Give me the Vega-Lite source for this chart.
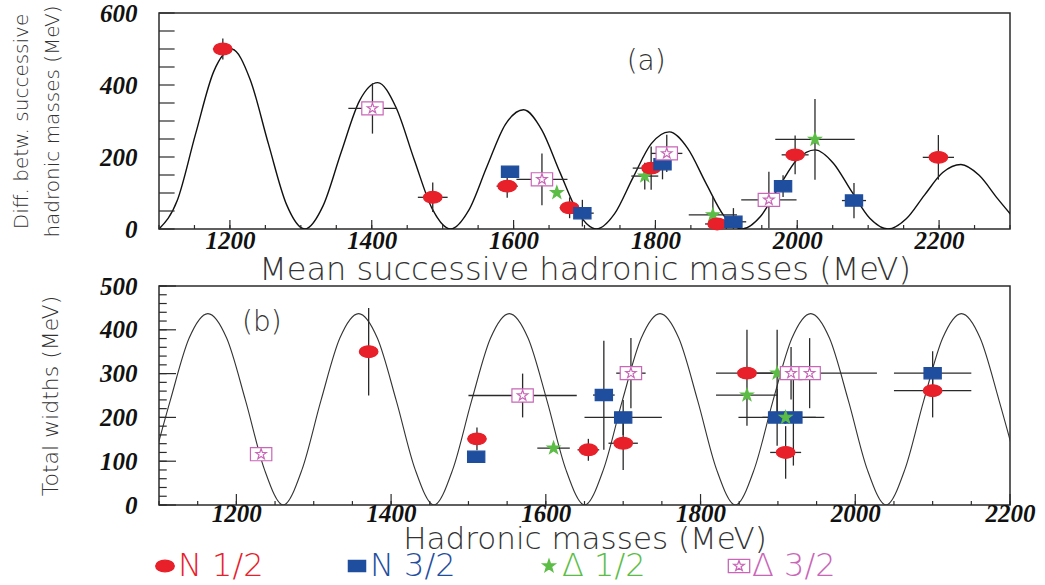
{
  "$schema": "https://vega.github.io/schema/vega-lite/v6.json",
  "background": "white",
  "padding": {"left": 10, "top": 0, "right": 5, "bottom": 5},
  "spacing": -16,
  "config": {
    "view": {"stroke": "#2b2b2b", "strokeWidth": 1.5},
    "axis": {"domain": false, "ticks": false, "grid": false,
      "labelFont": "Liberation Serif", "labelFontStyle": "italic", "labelFontWeight": "bold", "labelFontSize": 25, "labelColor": "#111",
      "labelFlush": false, "labelOverlap": false, "labelBound": false,
      "titleFont": "DejaVu Sans", "titleFontWeight": 200, "titleColor": "#333"}
  },
  "datasets": {
    "tkAx": [{"v":1100},{"v":1150},{"v":1200},{"v":1250},{"v":1300},{"v":1350},{"v":1400},{"v":1450},{"v":1500},{"v":1550},{"v":1600},{"v":1650},{"v":1700},{"v":1750},{"v":1800},{"v":1850},{"v":1900},{"v":1950},{"v":2000},{"v":2050},{"v":2100},{"v":2150},{"v":2200},{"v":2250},{"v":2300}],
    "tkAy": [{"v":0},{"v":50},{"v":100},{"v":150},{"v":200},{"v":250},{"v":300},{"v":350},{"v":400},{"v":450},{"v":500},{"v":550},{"v":600}],
    "tkBx": [{"v":1100},{"v":1150},{"v":1200},{"v":1250},{"v":1300},{"v":1350},{"v":1400},{"v":1450},{"v":1500},{"v":1550},{"v":1600},{"v":1650},{"v":1700},{"v":1750},{"v":1800},{"v":1850},{"v":1900},{"v":1950},{"v":2000},{"v":2050},{"v":2100},{"v":2150},{"v":2200}],
    "tkBy": [{"v":0},{"v":20},{"v":40},{"v":60},{"v":80},{"v":100},{"v":120},{"v":140},{"v":160},{"v":180},{"v":200},{"v":220},{"v":240},{"v":260},{"v":280},{"v":300},{"v":320},{"v":340},{"v":360},{"v":380},{"v":400},{"v":420},{"v":440},{"v":460},{"v":480},{"v":500}],
    "pts": [
      {"panel":"a","s":"N 1/2","x":1190,"y":500,"xlo":1176,"xhi":1204,"ylo":471,"yhi":529},
      {"panel":"a","s":"Δ 3/2","x":1401,"y":335,"xlo":1367,"xhi":1435,"ylo":265,"yhi":405},
      {"panel":"a","s":"N 1/2","x":1486,"y":88,"xlo":1465,"xhi":1507,"ylo":47,"yhi":129},
      {"panel":"a","s":"N 3/2","x":1595,"y":159},
      {"panel":"a","s":"N 1/2","x":1591,"y":119,"xlo":1576,"xhi":1606,"ylo":87,"yhi":151},
      {"panel":"a","s":"Δ 3/2","x":1640,"y":138,"xlo":1604,"xhi":1676,"ylo":66,"yhi":210},
      {"panel":"a","s":"Δ 1/2","x":1661,"y":101},
      {"panel":"a","s":"N 1/2","x":1679,"y":59,"xlo":1665,"xhi":1693,"ylo":30,"yhi":88},
      {"panel":"a","s":"N 3/2","x":1697,"y":44,"xlo":1681,"xhi":1713,"ylo":7,"yhi":81},
      {"panel":"a","s":"Δ 1/2","x":1785,"y":147,"xlo":1766,"xhi":1804,"ylo":110,"yhi":184},
      {"panel":"a","s":"N 1/2","x":1794,"y":169,"xlo":1768,"xhi":1820,"ylo":109,"yhi":229},
      {"panel":"a","s":"N 3/2","x":1810,"y":180,"ylo":138,"yhi":222},
      {"panel":"a","s":"Δ 3/2","x":1816,"y":210,"xlo":1794,"xhi":1838,"ylo":158,"yhi":262},
      {"panel":"a","s":"Δ 1/2","x":1881,"y":39,"xlo":1847,"xhi":1915,"ylo":0,"yhi":90},
      {"panel":"a","s":"N 1/2","x":1887,"y":14,"xlo":1870,"xhi":1904},
      {"panel":"a","s":"N 3/2","x":1910,"y":20,"xlo":1892,"xhi":1928,"ylo":0,"yhi":58},
      {"panel":"a","s":"Δ 3/2","x":1960,"y":81,"xlo":1921,"xhi":1999,"ylo":3,"yhi":159},
      {"panel":"a","s":"N 3/2","x":1980,"y":119,"xlo":1970,"xhi":1990,"ylo":89,"yhi":149},
      {"panel":"a","s":"N 1/2","x":1997,"y":206,"xlo":1978,"xhi":2016,"ylo":152,"yhi":260},
      {"panel":"a","s":"Δ 1/2","x":2025,"y":249,"xlo":1969,"xhi":2081,"ylo":137,"yhi":361},
      {"panel":"a","s":"N 3/2","x":2080,"y":79,"xlo":2063,"xhi":2097,"ylo":30,"yhi":128},
      {"panel":"a","s":"N 1/2","x":2199,"y":199,"xlo":2177,"xhi":2221,"ylo":137,"yhi":261},
      {"panel":"b","s":"Δ 3/2","x":1232,"y":116},
      {"panel":"b","s":"N 1/2","x":1371,"y":350,"ylo":250,"yhi":450},
      {"panel":"b","s":"N 1/2","x":1511,"y":151,"ylo":125,"yhi":177},
      {"panel":"b","s":"N 3/2","x":1510,"y":110},
      {"panel":"b","s":"Δ 3/2","x":1570,"y":250,"xlo":1500,"xhi":1640,"ylo":200,"yhi":300},
      {"panel":"b","s":"Δ 1/2","x":1610,"y":130,"xlo":1589,"xhi":1631},
      {"panel":"b","s":"N 1/2","x":1655,"y":126,"xlo":1641,"xhi":1669,"ylo":101,"yhi":151},
      {"panel":"b","s":"N 3/2","x":1675,"y":251,"xlo":1661,"xhi":1689,"ylo":126,"yhi":375},
      {"panel":"b","s":"N 3/2","x":1700,"y":200,"xlo":1650,"xhi":1750,"ylo":160,"yhi":240},
      {"panel":"b","s":"N 1/2","x":1700,"y":141,"xlo":1681,"xhi":1719,"ylo":80,"yhi":200},
      {"panel":"b","s":"Δ 3/2","x":1710,"y":301,"xlo":1691,"xhi":1729,"ylo":221,"yhi":381},
      {"panel":"b","s":"N 1/2","x":1860,"y":301,"xlo":1820,"xhi":1900,"ylo":181,"yhi":400},
      {"panel":"b","s":"Δ 1/2","x":1860,"y":251,"xlo":1820,"xhi":1900},
      {"panel":"b","s":"Δ 1/2","x":1899,"y":301,"ylo":202,"yhi":400},
      {"panel":"b","s":"N 3/2","x":1899,"y":200,"xlo":1849,"xhi":1949,"ylo":135,"yhi":265},
      {"panel":"b","s":"N 3/2","x":1920,"y":200,"xlo":1880,"xhi":1960,"ylo":90,"yhi":310},
      {"panel":"b","s":"Δ 3/2","x":1917,"y":301,"ylo":241,"yhi":361},
      {"panel":"b","s":"Δ 3/2","x":1941,"y":301,"xlo":1855,"xhi":2028,"ylo":221,"yhi":381},
      {"panel":"b","s":"Δ 1/2","x":1910,"y":200},
      {"panel":"b","s":"N 1/2","x":1910,"y":120,"xlo":1890,"xhi":1930,"ylo":60,"yhi":180},
      {"panel":"b","s":"N 3/2","x":2100,"y":301,"xlo":2050,"xhi":2150,"ylo":251,"yhi":351},
      {"panel":"b","s":"N 1/2","x":2100,"y":261,"xlo":2050,"xhi":2150,"ylo":200,"yhi":322}
    ],
    "curveA": [
      {"x":1100,"y":0},{"x":1125.7,"y":78.9},{"x":1151.4,"y":262.7},{"x":1177.1,"y":437.1},{"x":1202.8,"y":499.1},{"x":1228.5,"y":415.3},{"x":1254.2,"y":237.1},{"x":1279.9,"y":67.7},
      {"x":1305.6,"y":0},{"x":1331.3,"y":64.3},{"x":1357,"y":214},{"x":1382.7,"y":356.1},{"x":1408.4,"y":406.6},{"x":1434.1,"y":338.3},{"x":1459.8,"y":193.2},{"x":1485.5,"y":55.1},
      {"x":1511.2,"y":0},{"x":1536.9,"y":52.4},{"x":1562.6,"y":174.3},{"x":1588.3,"y":290},{"x":1614,"y":331.2},{"x":1639.7,"y":275.5},{"x":1665.4,"y":157.3},{"x":1691.1,"y":44.9},
      {"x":1716.8,"y":0},{"x":1742.5,"y":42.6},{"x":1768.2,"y":142},{"x":1793.9,"y":236.3},{"x":1819.6,"y":269.8},{"x":1845.3,"y":224.5},{"x":1871,"y":128.2},{"x":1896.7,"y":36.6},
      {"x":1922.4,"y":0},{"x":1948.1,"y":34.7},{"x":1973.8,"y":115.7},{"x":1999.5,"y":192.5},{"x":2025.2,"y":219.8},{"x":2050.9,"y":182.8},{"x":2076.6,"y":104.4},{"x":2102.3,"y":29.8},
      {"x":2128,"y":0},{"x":2153.7,"y":28.3},{"x":2179.4,"y":94.2},{"x":2205.1,"y":156.7},{"x":2230.8,"y":179},{"x":2256.5,"y":149},{"x":2282.2,"y":85},{"x":2307.9,"y":24.3}
    ],
    "curveB": [
      {"x":1090.15,"y":81.4},{"x":1114.5,"y":238.3},{"x":1138.85,"y":380.5},{"x":1163.2,"y":437},{"x":1187.55,"y":380.5},{"x":1211.9,"y":238.3},{"x":1236.25,"y":81.4},{"x":1260.6,"y":0},
      {"x":1284.95,"y":81.4},{"x":1309.3,"y":238.3},{"x":1333.65,"y":380.5},{"x":1358,"y":437},{"x":1382.35,"y":380.5},{"x":1406.7,"y":238.3},{"x":1431.05,"y":81.4},{"x":1455.4,"y":0},
      {"x":1479.75,"y":81.4},{"x":1504.1,"y":238.3},{"x":1528.45,"y":380.5},{"x":1552.8,"y":437},{"x":1577.15,"y":380.5},{"x":1601.5,"y":238.3},{"x":1625.85,"y":81.4},{"x":1650.2,"y":0},
      {"x":1674.55,"y":81.4},{"x":1698.9,"y":238.3},{"x":1723.25,"y":380.5},{"x":1747.6,"y":437},{"x":1771.95,"y":380.5},{"x":1796.3,"y":238.3},{"x":1820.65,"y":81.4},{"x":1845,"y":0},
      {"x":1869.35,"y":81.4},{"x":1893.7,"y":238.3},{"x":1918.05,"y":380.5},{"x":1942.4,"y":437},{"x":1966.75,"y":380.5},{"x":1991.1,"y":238.3},{"x":2015.45,"y":81.4},{"x":2039.8,"y":0},
      {"x":2064.15,"y":81.4},{"x":2088.5,"y":238.3},{"x":2112.85,"y":380.5},{"x":2137.2,"y":437},{"x":2161.55,"y":380.5},{"x":2185.9,"y":238.3},{"x":2210.25,"y":81.4}
    ]
  },
  "vconcat": [
    {
      "width": 851, "height": 216,
      "layer": [
        {
          "data": {"name": "curveA"},
          "mark": {"type": "line", "interpolate": "monotone", "color": "#111", "strokeWidth": 1.4, "clip": true},
          "encoding": {
            "x": {"field": "x", "type": "quantitative", "scale": {"domain": [1100, 2300], "nice": false, "zero": false},
              "axis": {"orient": "bottom", "ticks": false, "domain": false, "title": "Mean successive hadronic masses (MeV)", "titleFontSize": 32, "titlePadding": 1, "format": "d",
                "values": [1200,1400,1600,1800,2000,2200], "labelPadding": -1, "labelOverlap": false, "labelFlush": false}},
            "y": {"field": "y", "type": "quantitative", "scale": {"domain": [0, 600], "nice": false},
              "axis": {"orient": "left", "ticks": false, "domain": false, "title": ["Diff. betw. successive", "hadronic masses (MeV)"], "titleFontSize": 20, "titleLineHeight": 31, "titlePadding": 37, "format": "d",
                "values": [0,200,400,600], "labelPadding": 22, "labelOverlap": false}}
          }
        },
        {
          "data": {"name": "tkAx"},
          "mark": {"type": "rule", "color": "#2b2b2b", "strokeWidth": 1.2},
          "encoding": {"x": {"field": "v", "type": "quantitative"}, "y": {"datum": 0}, "y2": {"datum": 11}}
        },
        {
          "data": {"name": "tkAx"},
          "transform": [{"filter": "datum.v % 200 === 0"}],
          "mark": {"type": "rule", "color": "#2b2b2b", "strokeWidth": 1.2},
          "encoding": {"x": {"field": "v", "type": "quantitative"}, "y": {"datum": 0}, "y2": {"datum": 25}}
        },
        {
          "data": {"name": "tkAy"},
          "mark": {"type": "rule", "color": "#2b2b2b", "strokeWidth": 1.2},
          "encoding": {"y": {"field": "v", "type": "quantitative"}, "x": {"datum": 1100}, "x2": {"datum": 1122}}
        },
        {
          "data": {"name": "pts"},
          "transform": [{"filter": "datum.panel === 'a' && datum.xlo != null"}],
          "mark": {"type": "rule", "color": "#2a2a2a", "strokeWidth": 1.3},
          "encoding": {"x": {"field": "xlo", "type": "quantitative"}, "x2": {"field": "xhi"}, "y": {"field": "y", "type": "quantitative"}}
        },
        {
          "data": {"name": "pts"},
          "transform": [{"filter": "datum.panel === 'a' && datum.ylo != null"}],
          "mark": {"type": "rule", "color": "#2a2a2a", "strokeWidth": 1.3},
          "encoding": {"x": {"field": "x", "type": "quantitative"}, "y": {"field": "ylo", "type": "quantitative"}, "y2": {"field": "yhi"}}
        },
        {
          "data": {"name": "pts"},
          "transform": [{"filter": "datum.panel === 'a'"}],
          "mark": {"type": "point", "size": 190, "opacity": 1, "strokeWidth": 1.2},
          "encoding": {
            "x": {"field": "x", "type": "quantitative"},
            "y": {"field": "y", "type": "quantitative"},
            "shape": {"field": "s", "type": "nominal", "scale": {"domain": ["N 1/2", "N 3/2", "Δ 1/2", "Δ 3/2"],
              "range": ["M-1.35,0A1.35,0.85,0,1,1,1.35,0A1.35,0.85,0,1,1,-1.35,0Z", "M-1.25,-0.82H1.25V0.82H-1.25Z", "M0,-0.95L0.2234,-0.3074L0.9035,-0.2936L0.3614,0.1174L0.5584,0.7686L0,0.38L-0.5584,0.7686L-0.3614,0.1174L-0.9035,-0.2936L-0.2234,-0.3074Z", "M-1.55,-0.95H1.55V0.95H-1.55Z M0,-0.8L0.1881,-0.2589L0.7608,-0.2472L0.3043,0.0989L0.4702,0.6472L0,0.32L-0.4702,0.6472L-0.3043,0.0989L-0.7608,-0.2472L-0.1881,-0.2589Z"]},
              "legend": {"title": null, "orient": "none", "direction": "horizontal", "legendX": -10, "legendY": 537, "labelFontSize": 32, "labelFont": "DejaVu Sans", "labelFontWeight": 200, "labelColor": {"expr": "datum.value === 'N 1/2' ? '#e8202a' : datum.value === 'N 3/2' ? '#1f4e9f' : datum.value === 'Δ 1/2' ? '#5cbd46' : '#c966b8'"}, "symbolSize": 190, "columnPadding": 77, "labelOffset": -3, "symbolStrokeWidth": 1.3, "labelLimit": 300}},
            "fill": {"field": "s", "type": "nominal", "scale": {"domain": ["N 1/2", "N 3/2", "Δ 1/2", "Δ 3/2"], "range": ["#e8202a", "#1f4e9f", "#5cbd46", "#ffffff"]},
              "legend": {"title": null, "orient": "none", "direction": "horizontal", "legendX": -10, "legendY": 537, "labelFontSize": 32, "labelFont": "DejaVu Sans", "labelFontWeight": 200, "labelColor": {"expr": "datum.value === 'N 1/2' ? '#e8202a' : datum.value === 'N 3/2' ? '#1f4e9f' : datum.value === 'Δ 1/2' ? '#5cbd46' : '#c966b8'"}, "symbolSize": 190, "columnPadding": 77, "labelOffset": -3, "symbolStrokeWidth": 1.3, "labelLimit": 300}},
            "stroke": {"field": "s", "type": "nominal", "scale": {"domain": ["N 1/2", "N 3/2", "Δ 1/2", "Δ 3/2"], "range": ["#e8202a", "#1f4e9f", "#5cbd46", "#c966b8"]},
              "legend": {"title": null, "orient": "none", "direction": "horizontal", "legendX": -10, "legendY": 537, "labelFontSize": 32, "labelFont": "DejaVu Sans", "labelFontWeight": 200, "labelColor": {"expr": "datum.value === 'N 1/2' ? '#e8202a' : datum.value === 'N 3/2' ? '#1f4e9f' : datum.value === 'Δ 1/2' ? '#5cbd46' : '#c966b8'"}, "symbolSize": 190, "columnPadding": 77, "labelOffset": -3, "symbolStrokeWidth": 1.3, "labelLimit": 300}}
          }
        },
        {
          "data": {"values": [{}]},
          "mark": {"type": "text", "font": "DejaVu Sans", "fontWeight": 200, "fontSize": 28, "color": "#333"},
          "encoding": {"x": {"datum": 1787}, "y": {"datum": 464}, "text": {"value": "(a)"}}
        }
      ]
    },
    {
      "width": 851, "height": 219,
      "layer": [
        {
          "data": {"name": "curveB"},
          "mark": {"type": "line", "interpolate": "monotone", "color": "#333", "strokeWidth": 1.1, "clip": true},
          "encoding": {
            "x": {"field": "x", "type": "quantitative", "scale": {"domain": [1100, 2200], "nice": false, "zero": false},
              "axis": {"orient": "bottom", "ticks": false, "domain": false, "title": "Hadronic masses (MeV)", "titleFontSize": 31, "titlePadding": -2, "format": "d",
                "values": [1200,1400,1600,1800,2000,2200], "labelPadding": -4, "labelOverlap": false, "labelFlush": false}},
            "y": {"field": "y", "type": "quantitative", "scale": {"domain": [0, 500], "nice": false},
              "axis": {"orient": "left", "ticks": false, "domain": false, "title": "Total widths (MeV)", "titleFontSize": 22, "titlePadding": 37, "format": "d",
                "values": [0,100,200,300,400,500], "labelPadding": 22, "labelOverlap": false}}
          }
        },
        {
          "data": {"name": "tkBx"},
          "mark": {"type": "rule", "color": "#2b2b2b", "strokeWidth": 1.2},
          "encoding": {"x": {"field": "v", "type": "quantitative"}, "y": {"datum": 0}, "y2": {"datum": 9}}
        },
        {
          "data": {"name": "tkBx"},
          "transform": [{"filter": "datum.v % 200 === 0"}],
          "mark": {"type": "rule", "color": "#2b2b2b", "strokeWidth": 1.2},
          "encoding": {"x": {"field": "v", "type": "quantitative"}, "y": {"datum": 0}, "y2": {"datum": 25}}
        },
        {
          "data": {"name": "tkBy"},
          "mark": {"type": "rule", "color": "#2b2b2b", "strokeWidth": 1.2},
          "encoding": {"y": {"field": "v", "type": "quantitative"}, "x": {"datum": 1100}, "x2": {"datum": 1110}}
        },
        {
          "data": {"name": "tkBy"},
          "transform": [{"filter": "datum.v % 100 === 0"}],
          "mark": {"type": "rule", "color": "#2b2b2b", "strokeWidth": 1.2},
          "encoding": {"y": {"field": "v", "type": "quantitative"}, "x": {"datum": 1100}, "x2": {"datum": 1122}}
        },
        {
          "data": {"name": "pts"},
          "transform": [{"filter": "datum.panel === 'b' && datum.xlo != null"}],
          "mark": {"type": "rule", "color": "#2a2a2a", "strokeWidth": 1.3},
          "encoding": {"x": {"field": "xlo", "type": "quantitative"}, "x2": {"field": "xhi"}, "y": {"field": "y", "type": "quantitative"}}
        },
        {
          "data": {"name": "pts"},
          "transform": [{"filter": "datum.panel === 'b' && datum.ylo != null"}],
          "mark": {"type": "rule", "color": "#2a2a2a", "strokeWidth": 1.3},
          "encoding": {"x": {"field": "x", "type": "quantitative"}, "y": {"field": "ylo", "type": "quantitative"}, "y2": {"field": "yhi"}}
        },
        {
          "data": {"name": "pts"},
          "transform": [{"filter": "datum.panel === 'b'"}],
          "mark": {"type": "point", "size": 190, "opacity": 1, "strokeWidth": 1.2},
          "encoding": {
            "x": {"field": "x", "type": "quantitative"},
            "y": {"field": "y", "type": "quantitative"},
            "shape": {"field": "s", "type": "nominal"},
            "fill": {"field": "s", "type": "nominal"},
            "stroke": {"field": "s", "type": "nominal"}
          }
        },
        {
          "data": {"values": [{}]},
          "mark": {"type": "text", "font": "DejaVu Sans", "fontWeight": 200, "fontSize": 28, "color": "#333"},
          "encoding": {"x": {"datum": 1233}, "y": {"datum": 415}, "text": {"value": "(b)"}}
        }
      ]
    }
  ]
}
